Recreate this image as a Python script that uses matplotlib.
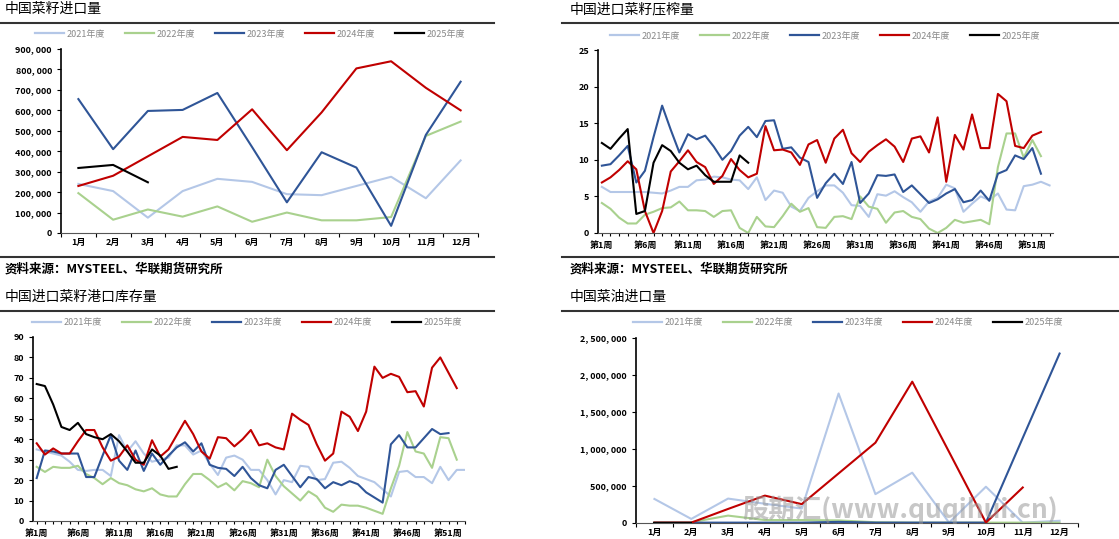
import matplotlib
matplotlib.use("Agg")
import matplotlib.pyplot as plt
from matplotlib.ticker import FuncFormatter, NullFormatter
from matplotlib.lines import Line2D

plt.rcParams["font.family"] = ["Noto Sans CJK SC", "DejaVu Sans"]

years = ["2021年度", "2022年度", "2023年度", "2024年度", "2025年度"]
colors = ["#B4C7E7", "#A9D18E", "#2F5597", "#C00000", "#000000"]
months = ["1月", "2月", "3月", "4月", "5月", "6月", "7月", "8月", "9月", "10月", "11月", "12月"]

# 中国菜籽进口量 (吨)
seed_2021 = [240e3, 205e3, 75e3, 205e3, 265e3, 250e3, 190e3, 185e3, 230e3, 275e3, 170e3, 355e3]
seed_2022 = [195e3, 65e3, 115e3, 80e3, 130e3, 55e3, 100e3, 62e3, 62e3, 78e3, 475e3, 545e3]
seed_2023 = [655e3, 410e3, 597e3, 602e3, 685e3, 420e3, 150e3, 395e3, 320e3, 35e3, 480e3, 740e3]
seed_2024 = [230e3, 280e3, 375e3, 470e3, 455e3, 605e3, 405e3, 590e3, 805e3, 840e3, 710e3, 600e3]
seed_2025 = [318e3, 333e3, 248e3]

# 中国进口菜籽压榨量 (万吨)
crush_2021 = [6.3,5.6,5.6,5.6,5.6,5.6,5.5,5.4,5.8,6.3,6.3,7.2,7.3,7.7,7.6,7.3,7.2,6.0,7.6,4.5,
              5.8,5.5,3.6,3.0,4.8,5.7,6.5,6.5,5.5,3.8,3.7,2.2,5.3,5.1,5.7,4.9,4.2,2.9,4.3,4.8,
              6.6,6.1,2.9,4.0,5.0,4.5,5.4,3.2,3.1,6.4,6.6,7.0,6.5]
crush_2022 = [4.1,3.3,2.1,1.3,1.3,2.5,2.9,3.4,3.5,4.3,3.1,3.1,3.0,2.2,3.0,3.1,0.7,0.0,2.2,0.9,
              0.8,2.3,4.0,2.9,3.4,0.8,0.7,2.2,2.3,1.9,5.0,3.6,3.3,1.4,2.8,3.0,2.2,1.9,0.6,0.0,
              0.7,1.8,1.4,1.6,1.8,1.2,9.0,13.6,13.6,10.3,12.7,10.5]
crush_2023 = [9.2,9.4,10.6,11.9,6.9,8.5,13.1,17.4,14.1,11.0,13.5,12.8,13.3,11.8,10.0,11.2,13.3,14.5,13.1,15.3,
              15.4,11.5,11.7,10.3,9.7,4.8,6.8,8.1,6.7,9.7,4.1,5.4,7.9,7.8,8.0,5.6,6.5,5.3,4.1,4.6,
              5.4,6.0,4.2,4.5,5.8,4.4,8.1,8.6,10.6,10.1,11.6,8.1]
crush_2024 = [6.9,7.6,8.6,9.8,8.7,3.0,0.0,3.0,8.4,9.8,11.3,9.7,9.0,6.7,7.8,10.1,8.6,7.6,8.1,14.6,
              11.3,11.4,11.0,9.3,12.1,12.7,9.6,12.9,14.1,10.9,9.7,11.1,12.0,12.8,11.8,9.7,12.9,13.2,11.0,15.8,
              7.0,13.4,11.4,16.2,11.6,11.6,19.0,18.0,11.9,11.6,13.3,13.8]
crush_2025 = [12.3,11.5,12.9,14.2,2.6,3.0,9.6,12.0,11.2,9.6,8.7,9.2,7.9,7.0,7.0,7.0,10.6,9.6]

# 中国进口菜籽港口库存量 (万吨)
stock_2021 = [35,34,33,32,29,25,24.5,25,25,22,42,34,39,33,29,30,31,37,37,32.5,
              34.5,28,22.5,31,32,30,25,25,20,13,20,19,27,26.5,20,20.5,28.5,29,26,22,
              20.5,19,15.5,12,24,24.5,21.5,21.5,18.5,26.5,20,25,25]
stock_2022 = [26.5,24,26.5,26,26,27,23,21,18,21,18.5,17.5,15.5,14.5,16,13,12,12,18,23,
              23,20,16.5,18.5,15,19.5,18.5,16.5,30,22,17,13.5,10,14.5,12,6.5,4.5,8,7.5,7.5,
              6.5,5,3.5,16,27,43.5,34,33,26,41,40.5,30]
stock_2023 = [21,34.5,34,33,33,33,21.5,21.5,32,42,29.5,25,34.5,24.5,33,27.5,32,36,38.5,34,
              38,27.5,26,25.5,22,26.5,21,17.5,16,25,27.5,22,16.5,21.5,20.5,16,19,17.5,19.5,18,
              14,11.5,9,37.5,42,36,36,40.5,45,42.5,43]
stock_2024 = [38,32.5,35.5,33,33,39,44.5,44.5,36,29.5,31.5,37,30,27.5,39.5,31.5,35,42,49,42.5,
              34,30.5,41,40.5,36.5,40,44.5,37,38,36,35,52.5,49.5,47,37.5,29.5,33,53.5,51,44,
              53.5,75.5,70,72,70.5,63,63.5,56,75,80,72.5,65]
stock_2025 = [67,66,57,46,44.5,48,42.5,41,40,42.5,39,34,28.5,28.5,35,32,25.5,26.5]

# 中国菜油进口量 (吨)
oil_2021 = [325e3, 55e3, 330e3, 260e3, 195e3, 1750e3, 390e3, 680e3, 5e3, 490e3, 5e3, 30e3]
oil_2022 = [10e3, 10e3, 100e3, 40e3, 40e3, 35e3, 10e3, 5e3, 5e3, 5e3, 5e3, 5e3]
oil_2023 = [5e3, 5e3, 5e3, 5e3, 5e3, 15e3, 5e3, 5e3, 5e3, 5e3, 1150e3, 2290e3]
oil_2024 = [5e3, 5e3, 190e3, 370e3, 255e3, 670e3, 1085e3, 1910e3, 960e3, 5e3, 480e3]
oil_2025 = [5e3, 5e3]

W, H = 1119, 539
fig = plt.figure(figsize=(W / 100, H / 100), dpi=100)


def px_axes(x0, y0, x1, y1):
    return fig.add_axes([x0 / W, 1 - y1 / H, (x1 - x0) / W, (y1 - y0) / H])


def hline(x0, x1, y, lw=1.5):
    fig.add_artist(Line2D([x0 / W, x1 / W], [1 - y / H, 1 - y / H], color="#333333", lw=lw))


def style(ax):
    for s in ["top", "right"]:
        ax.spines[s].set_visible(False)
    ax.spines["left"].set_linewidth(1.2)
    ax.spines["bottom"].set_color("#555555")
    ax.tick_params(labelsize=6.5, length=3, width=0.8)
    for lab in ax.get_yticklabels() + ax.get_xticklabels():
        lab.set_fontweight("bold")


def legend(fig_xc, fig_y):
    h = [Line2D([], [], color=c, lw=1.6) for c in colors]
    fig.legend(h, years, ncol=5, frameon=False, loc="center", bbox_to_anchor=(fig_xc / W, 1 - fig_y / H),
               fontsize=6.5, labelcolor="#888888", handlelength=3.2, columnspacing=2.2,
               handletextpad=0.3, borderaxespad=0)


def title(x, y, s):
    fig.text(x / W, 1 - y / H, s, fontsize=10, va="center", ha="left")


def monthly(ax, series, ymax, step):
    for vals, c in zip(series, colors):
        ax.plot(range(1, len(vals) + 1), vals, color=c, lw=1.5)
    ax.set_xlim(0.5, 12.5)
    ax.set_ylim(0, ymax)
    ax.set_yticks(range(0, int(ymax) + 1, int(step)))
    ax.yaxis.set_major_formatter(FuncFormatter(lambda v, p: f"{int(v):,}".replace(",", ", ")))
    ax.set_xticks([i + 0.5 for i in range(0, 13)])
    ax.xaxis.set_major_formatter(NullFormatter())
    ax.set_xticks(range(1, 13), minor=True)
    ax.set_xticklabels(months, minor=True)
    ax.tick_params(axis="x", which="minor", length=0, labelsize=6.5)
    style(ax)
    for lab in ax.get_xticklabels(minor=True):
        lab.set_fontweight("bold")


def weekly(ax, series, ymax, step, xmax):
    for vals, c in zip(series, colors):
        ax.plot(range(1, len(vals) + 1), vals, color=c, lw=1.5)
    ax.set_xlim(0.55, xmax)
    ax.set_ylim(0, ymax)
    ax.set_yticks(range(0, ymax + 1, step))
    wk = list(range(1, 54))
    ax.set_xticks(wk)
    ax.set_xticklabels([f"第{w}周" if (w - 1) % 5 == 0 else "" for w in wk])
    style(ax)
    ax.tick_params(axis="x", length=2.5)


# top-left
title(5, 9, "中国菜籽进口量")
hline(0, 494, 23)
ax1 = px_axes(61, 49, 478, 233)
monthly(ax1, [seed_2021, seed_2022, seed_2023, seed_2024, seed_2025], 900000, 100000)
legend(250, 34)
hline(0, 494, 257)
fig.text(5 / W, 1 - 269 / H, "资料来源：MYSTEEL、华联期货研究所", fontsize=9, va="center", fontweight="bold")

# top-right
title(570, 9, "中国进口菜籽压榨量")
hline(562, 1119, 23)
ax2 = px_axes(598, 50, 1053, 233)
weekly(ax2, [crush_2021, crush_2022, crush_2023, crush_2024, crush_2025], 25, 5, 53.4)
legend(825, 36)
hline(562, 1119, 257)
fig.text(570 / W, 1 - 269 / H, "资料来源：MYSTEEL、华联期货研究所", fontsize=9, va="center", fontweight="bold")

# bottom-left
title(5, 297, "中国进口菜籽港口库存量")
hline(0, 494, 311)
ax3 = px_axes(33, 337, 465, 521)
weekly(ax3, [stock_2021, stock_2022, stock_2023, stock_2024, stock_2025], 90, 10, 52.3)
legend(247, 323)

# bottom-right
title(570, 297, "中国菜油进口量")
hline(562, 1119, 311)
ax4 = px_axes(636, 338, 1078, 523)
monthly(ax4, [oil_2021, oil_2022, oil_2023, oil_2024, oil_2025], 2500000, 500000)
legend(848, 323)
fig.text(900 / W, 1 - 510 / H, "股期汇(www.quqihui.cn)", fontsize=19, fontweight="bold",
         color="#999999", alpha=0.55, ha="center", va="center", style="italic")

fig.savefig("out.png", dpi=100)
